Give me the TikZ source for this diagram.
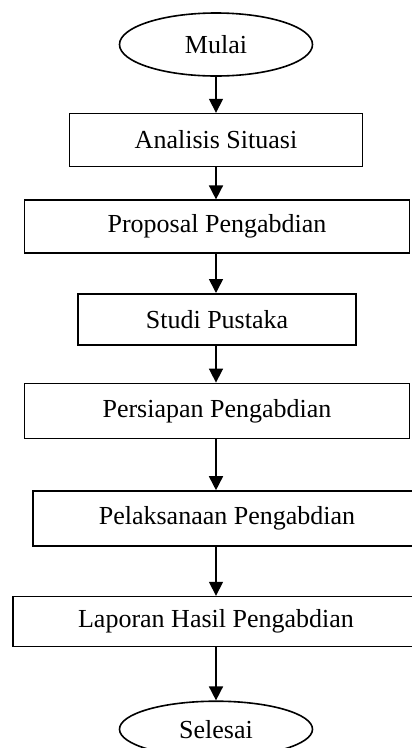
\documentclass[tikz,border=0pt]{standalone}
\usepackage{fontspec}
\setmainfont{Liberation Serif}
\usetikzlibrary{shapes.geometric, arrows.meta, positioning}

\begin{document}
\begin{tikzpicture}[
    proc/.style={draw, line width=1.6pt, rectangle, inner sep=0pt, font=\fontsize{26pt}{30pt}\selectfont},
    term/.style={draw, line width=1.6pt, ellipse, inner sep=0pt, font=\fontsize{26pt}{30pt}\selectfont},
    arr/.style={line width=1.6pt, -{Triangle[width=14pt,length=14pt]}}
]
    \clip (0,0) rectangle (412pt,-748pt);
    \node[term, minimum width=193pt, minimum height=63pt] (mulai) at (216pt,-44.5pt) {Mulai};
    \node[proc, minimum width=293pt, minimum height=53pt, below=36pt of mulai] (analisis) {Analisis Situasi};
    \node[proc, minimum width=385pt, minimum height=53pt, below=32pt of analisis, xshift=1pt] (proposal) {Proposal Pengabdian};
    \node[proc, minimum width=278pt, minimum height=51pt, below=39pt of proposal] (studi) {Studi Pustaka};
    \node[proc, minimum width=385pt, minimum height=55pt, below=37pt of studi] (persiapan) {Persiapan Pengabdian};
    \node[proc, minimum width=388pt, minimum height=55pt, below=51pt of persiapan, xshift=10pt] (pelaksanaan) {Pelaksanaan Pengabdian};
    \node[proc, minimum width=406pt, minimum height=50pt, below=49pt of pelaksanaan, xshift=-11pt] (laporan) {Laporan Hasil Pengabdian};
    \node[term, minimum width=193pt, minimum height=56pt, below=53pt of laporan] (selesai) {Selesai};

    \draw[arr] (mulai.south) -- (mulai.south |- analisis.north);
    \draw[arr] (analisis.south) -- (analisis.south |- proposal.north);
    \draw[arr] (mulai.south |- proposal.south) -- (mulai.south |- studi.north);
    \draw[arr] (mulai.south |- studi.south) -- (mulai.south |- persiapan.north);
    \draw[arr] (mulai.south |- persiapan.south) -- (mulai.south |- pelaksanaan.north);
    \draw[arr] (mulai.south |- pelaksanaan.south) -- (mulai.south |- laporan.north);
    \draw[arr] (mulai.south |- laporan.south) -- (selesai.north);
\end{tikzpicture}
\end{document}
